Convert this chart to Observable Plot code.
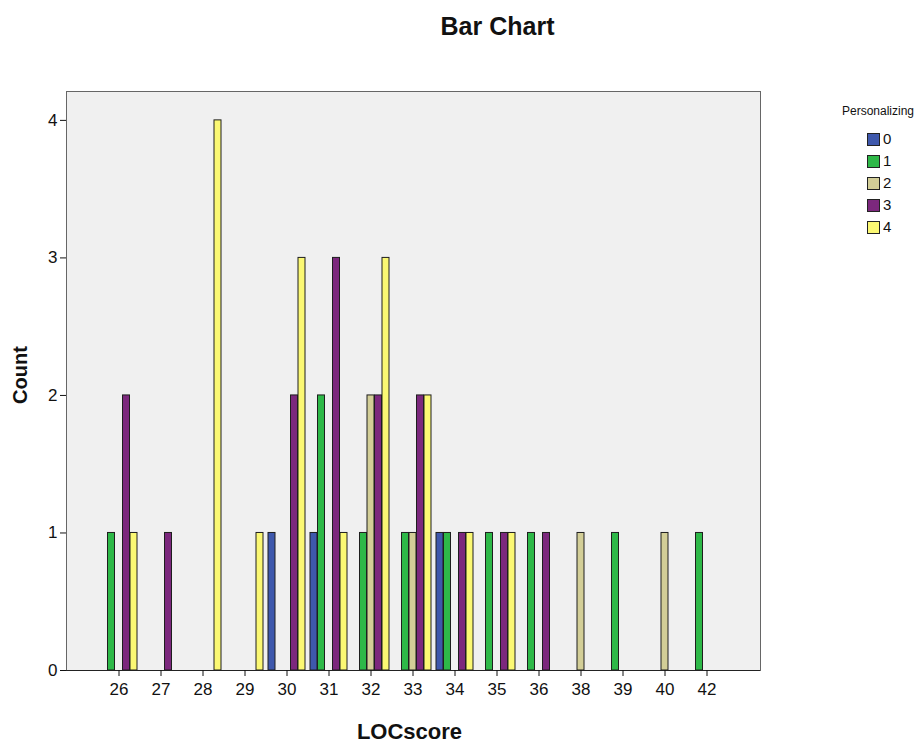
<!DOCTYPE html>
<html>
<head>
<meta charset="utf-8">
<script src="https://cdn.jsdelivr.net/npm/d3@7"></script>
<script src="https://cdn.jsdelivr.net/npm/@observablehq/plot@0.6"></script>
<style>
  html, body { margin: 0; padding: 0; background: #fff; }
  #wrap { position: relative; width: 924px; height: 745px; font-family: "Liberation Sans", Arial, sans-serif; }
  #legend { position: absolute; left: 838px; top: 104px; color: #111; }
  #legend .ttl { font-family: "Liberation Sans Narrow", "Arial Narrow", "Liberation Sans", sans-serif; font-size: 12px; margin-left: 4px; margin-bottom: 11px; }
  #legend .item { position: relative; height: 22px; }
  #legend .sw { position: absolute; left: 29px; top: 4px; width: 11px; height: 11px; border: 1px solid #222; }
  #legend .lab { position: absolute; left: 45px; top: 0px; font-size: 15px; line-height: 20px; }
</style>
</head>
<body>
<div id="wrap"></div>
<script>
// ---- data ----
const scores = [26, 27, 28, 29, 30, 31, 32, 33, 34, 35, 36, 38, 39, 40, 42];
const groups = ["0", "1", "2", "3", "4"];
const pers0 = [0, 0, 0, 0, 1, 1, 0, 0, 1, 0, 0, 0, 0, 0, 0];
const pers1 = [1, 0, 0, 0, 0, 2, 1, 1, 1, 1, 1, 0, 1, 0, 1];
const pers2 = [0, 0, 0, 0, 0, 0, 2, 1, 0, 0, 0, 1, 0, 1, 0];
const pers3 = [2, 1, 0, 0, 2, 3, 2, 2, 1, 1, 1, 0, 0, 0, 0];
const pers4 = [1, 0, 4, 1, 3, 1, 3, 2, 1, 1, 0, 0, 0, 0, 0];
const yTicks = [0, 1, 2, 3, 4];
const colors = ["#3e58ac", "#2eb848", "#d3ce97", "#7c287d", "#fbf873"];

const series = [pers0, pers1, pers2, pers3, pers4];
const rows = [];
series.forEach((vals, gi) => {
  vals.forEach((v, i) => {
    if (v > 0) rows.push({score: String(scores[i]), group: groups[gi], count: v});
  });
});

const slot = 7.5;
const bars = groups.map((g, gi) =>
  Plot.barY(rows.filter(d => d.group === g), {
    x: "score", y: "count", fill: "group",
    stroke: "#1e1e1e", strokeWidth: 1,
    insetLeft: 15, insetRight: 15, dx: (gi - 2) * slot
  })
);

const chart = Plot.plot({
  width: 924,
  height: 745,
  marginLeft: 66,
  marginRight: 164,
  marginTop: 91,
  marginBottom: 75,
  style: {fontFamily: "'Liberation Sans', Arial, sans-serif", color: "#111", background: "#fff"},
  x: {type: "band", domain: scores.map(String), paddingInner: 0.11, paddingOuter: 0.8},
  y: {domain: [0, 4.21]},
  color: {domain: groups, range: colors},
  marks: [
    Plot.frame({fill: "#f0f0f0", stroke: "#666"}),
    ...bars,
    Plot.ruleY([0], {stroke: "#222"}),
    Plot.axisX({tickSize: 6, tickPadding: 6, fontSize: 17, label: null}),
    Plot.axisY({ticks: yTicks, tickSize: 6, tickPadding: 3, fontSize: 17, label: null, tickFormat: "d"}),
    Plot.text(["Bar Chart"], {frameAnchor: "top", dx: 84, dy: -65, lineAnchor: "middle", textAnchor: "middle", fontSize: 25, fontWeight: "bold"}),
    Plot.text(["LOCscore"], {frameAnchor: "bottom", dx: -4, dy: 61, lineAnchor: "middle", textAnchor: "middle", fontSize: 22, fontWeight: "bold"}),
    Plot.text(["Count"], {frameAnchor: "left", dx: -46, dy: -6, rotate: -90, lineAnchor: "middle", textAnchor: "middle", fontSize: 20, fontWeight: "bold"})
  ]
});

const wrap = document.getElementById("wrap");
wrap.appendChild(chart);

const legend = document.createElement("div");
legend.id = "legend";
let html = '<div class="ttl">Personalizing</div>';
groups.forEach((g, i) => {
  html += `<div class="item"><div class="sw" style="background:${colors[i]}"></div><div class="lab">${g}</div></div>`;
});
legend.innerHTML = html;
wrap.appendChild(legend);
</script>
</body>
</html>
